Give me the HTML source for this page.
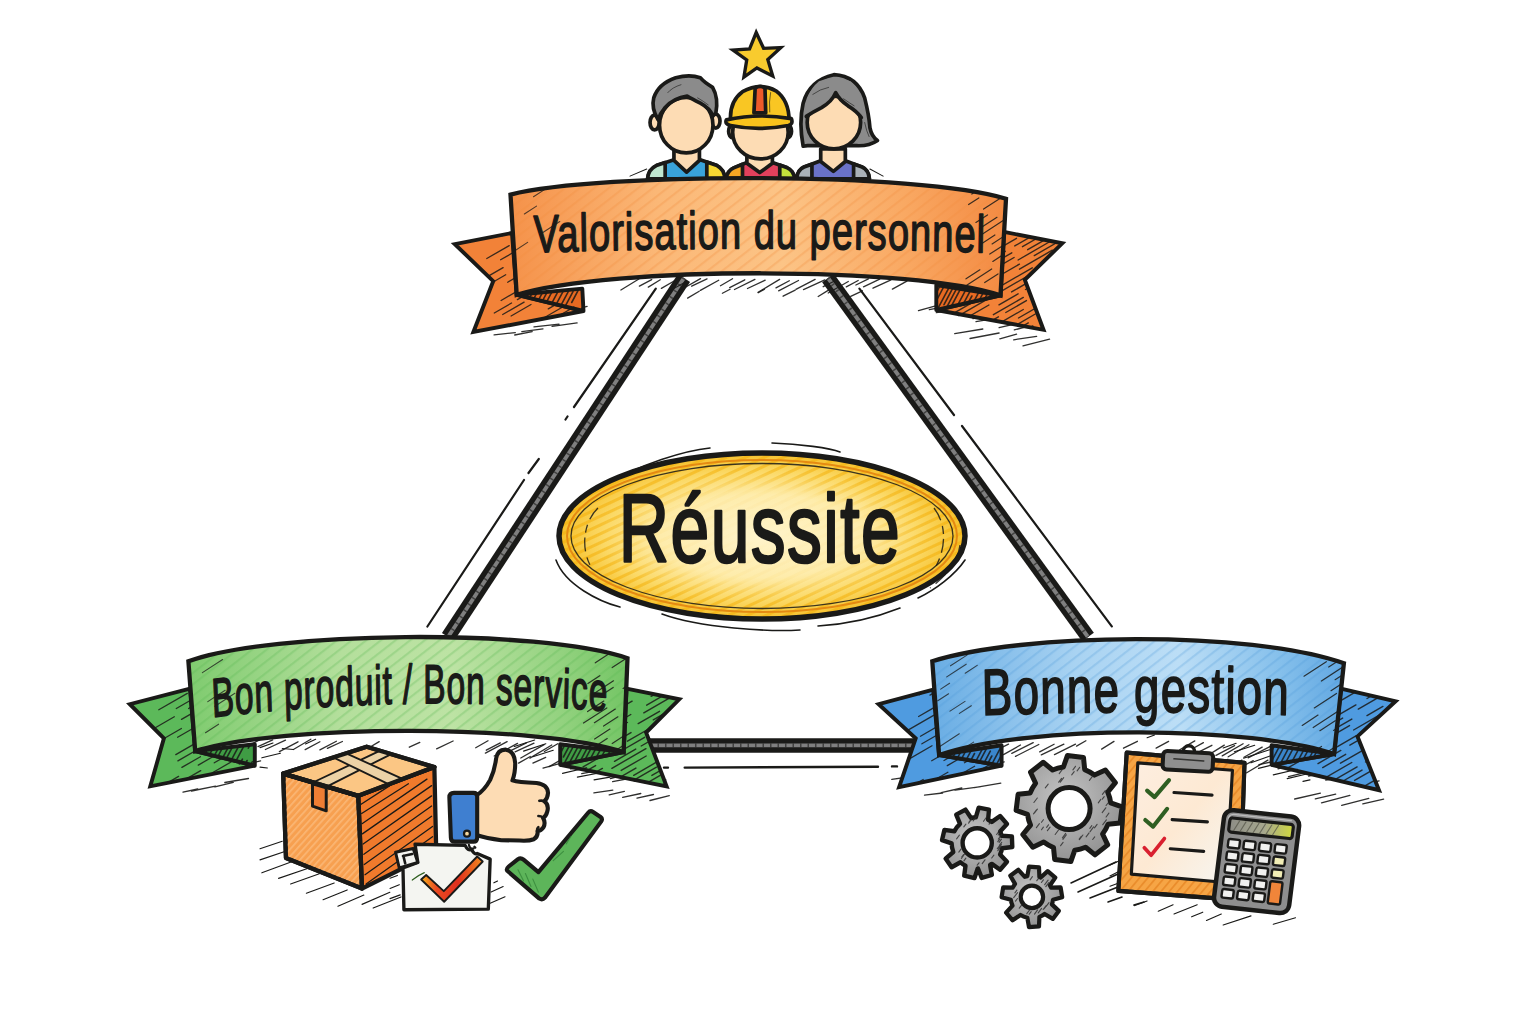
<!DOCTYPE html>
<html><head><meta charset="utf-8"><title>Triangle de la réussite</title>
<style>html,body{margin:0;padding:0;background:#fff;}body{width:1536px;height:1024px;overflow:hidden;font-family:"Liberation Sans",sans-serif;}svg{display:block}</style>
</head><body>
<svg width="1536" height="1024" viewBox="0 0 1536 1024">

<defs>
<linearGradient id="gOr" x1="0" x2="1" y1="0" y2="0">
 <stop offset="0" stop-color="#f5924a"/><stop offset="0.3" stop-color="#fbb877"/><stop offset="0.55" stop-color="#fcc486"/><stop offset="0.8" stop-color="#f9a862"/><stop offset="1" stop-color="#f38a42"/>
</linearGradient>
<linearGradient id="gGr" x1="0" x2="1" y1="0" y2="0">
 <stop offset="0" stop-color="#7fcb6f"/><stop offset="0.35" stop-color="#b4df9c"/><stop offset="0.6" stop-color="#bde3a4"/><stop offset="0.85" stop-color="#93d27f"/><stop offset="1" stop-color="#74c565"/>
</linearGradient>
<linearGradient id="gBl" x1="0" x2="1" y1="0" y2="0">
 <stop offset="0" stop-color="#69ade4"/><stop offset="0.35" stop-color="#a9d3f2"/><stop offset="0.6" stop-color="#bcdef6"/><stop offset="0.85" stop-color="#84bfeb"/><stop offset="1" stop-color="#62a8e2"/>
</linearGradient>
<radialGradient id="gYe" cx="0.5" cy="0.5" r="0.5">
 <stop offset="0" stop-color="#fff4cc"/><stop offset="0.5" stop-color="#feecab"/><stop offset="0.78" stop-color="#fbd966"/><stop offset="1" stop-color="#f6c02a"/>
</radialGradient>
<pattern id="hOr" width="9" height="9" patternUnits="userSpaceOnUse" patternTransform="rotate(-38)"><rect width="9" height="2.2" fill="#f08a3c" opacity="0.28"/></pattern>
<pattern id="hGr" width="9" height="9" patternUnits="userSpaceOnUse" patternTransform="rotate(-38)"><rect width="9" height="2.2" fill="#5bb552" opacity="0.28"/></pattern>
<pattern id="hBl" width="9" height="9" patternUnits="userSpaceOnUse" patternTransform="rotate(-38)"><rect width="9" height="2.2" fill="#4d98d8" opacity="0.25"/></pattern>
<pattern id="hYe" width="8" height="8" patternUnits="userSpaceOnUse" patternTransform="rotate(-25)"><rect width="8" height="3" fill="#f4b414" opacity="0.75"/></pattern>
<radialGradient id="gMask" cx="0.5" cy="0.5" r="0.5"><stop offset="0" stop-color="#000"/><stop offset="0.55" stop-color="#151515"/><stop offset="0.8" stop-color="#ccc"/><stop offset="1" stop-color="#fff"/></radialGradient>
<mask id="mYe"><ellipse cx="762" cy="536" rx="203" ry="83" fill="url(#gMask)"/></mask>
</defs>

<line x1="684" y1="278" x2="448" y2="637" stroke="#1a1a18" stroke-width="14.5"/>
<line x1="684" y1="278" x2="448" y2="637" stroke="#7f7f7f" stroke-width="3.9"/>
<line x1="684" y1="278" x2="448" y2="637" stroke="#1a1a18" stroke-width="3.9" stroke-dasharray="1.5 6" opacity="0.6"/>
<line x1="828" y1="278" x2="1088" y2="637" stroke="#1a1a18" stroke-width="14.5"/>
<line x1="828" y1="278" x2="1088" y2="637" stroke="#7f7f7f" stroke-width="3.9"/>
<line x1="828" y1="278" x2="1088" y2="637" stroke="#1a1a18" stroke-width="3.9" stroke-dasharray="1.5 6" opacity="0.6"/>
<line x1="650" y1="745.4" x2="914" y2="745.4" stroke="#1a1a18" stroke-width="14.5"/>
<line x1="650" y1="745.4" x2="914" y2="745.4" stroke="#7f7f7f" stroke-width="3.9"/>
<line x1="650" y1="745.4" x2="914" y2="745.4" stroke="#1a1a18" stroke-width="3.9" stroke-dasharray="1.5 6" opacity="0.6"/>
<path d="M655.8,288.6L574,407 M567.5,416.5L565.5,419.5 M538.8,459L528.5,473 M524,480L427.4,626.5" stroke="#1a1a18" stroke-width="2.2" fill="none" stroke-linecap="round"/>
<path d="M859.4,288.6L954,415 M962,426L1111.8,626.4" stroke="#1a1a18" stroke-width="2.2" fill="none" stroke-linecap="round"/>
<path d="M684.7,767.6L878,766.8 M664,767.6l4,0 M892,766.4l5,0" stroke="#1a1a18" stroke-width="2.4" fill="none" stroke-linecap="round"/>
<g transform="translate(630,10) scale(0.17578)" stroke="#1a1a18" stroke-width="21" stroke-linejoin="round" stroke-linecap="round">
<!-- sketch lines beside -->
<path d="M0,945 L95,905 M1365,905 L1440,945" stroke-width="6" fill="none"/>
<!-- LEFT MAN body -->
<path d="M100,960 Q105,905 150,885 L255,850 L395,850 L495,885 Q535,905 540,960 Z" fill="#39a3da"/>
<path d="M100,960 Q105,905 150,885 L200,868 L200,960 Z" fill="#bfe6cf"/>
<path d="M437,865 L495,885 Q535,905 540,960 L437,960 Z" fill="#f6d832"/>
<path d="M250,790 L250,855 L322,922 L395,855 L395,790 Z" fill="#fddcb4"/>
<!-- ears -->
<ellipse cx="140" cy="640" rx="26" ry="42" fill="#fddcb4"/>
<ellipse cx="488" cy="632" rx="24" ry="40" fill="#fddcb4"/>
<!-- face -->
<ellipse cx="320" cy="655" rx="152" ry="158" fill="#fddcb4"/>
<!-- hair -->
<path d="M160,625 Q120,560 135,500 Q160,420 260,385 Q340,365 400,385 Q420,410 470,440 Q505,500 488,590 L470,600 Q455,560 400,530 Q350,505 325,490 Q250,500 200,555 Q170,590 160,625 Z" fill="#8b8b8b"/>
<path d="M385,500 Q420,520 445,540 M215,470 Q240,440 290,425" stroke-width="5" fill="none" opacity="0.7"/>

<!-- WORKER body -->
<path d="M548,960 Q552,915 590,898 L665,868 L810,868 L895,898 Q932,915 936,960 Z" fill="#e2405c"/>
<path d="M548,960 Q552,915 590,898 L640,878 L640,960 Z" fill="#f6a623"/>
<path d="M852,882 L895,898 Q932,915 936,960 L852,960 Z" fill="#c3e23c"/>
<path d="M665,830 L665,872 L738,925 L810,872 L810,830 Z" fill="#fddcb4"/>
<ellipse cx="585" cy="690" rx="24" ry="38" fill="#fddcb4"/>
<ellipse cx="895" cy="690" rx="24" ry="38" fill="#fddcb4"/>
<ellipse cx="742" cy="695" rx="158" ry="152" fill="#fddcb4"/>
<!-- helmet -->
<path d="M572,630 Q565,520 640,465 Q740,410 830,460 Q905,515 905,630 Z" fill="#f9c623"/>
<path d="M705,585 L712,445 Q740,425 768,445 L772,585 Z" fill="#ef5a2a"/>
<path d="M548,625 Q730,585 918,618 Q930,650 900,657 Q730,690 572,657 Q538,650 548,625 Z" fill="#f8c21c"/>
<path d="M800,470 Q790,520 795,580" stroke-width="6" fill="none" opacity="0.6"/>

<!-- WOMAN -->
<path d="M985,775 Q960,640 985,530 Q1020,400 1160,368 Q1290,375 1335,500 Q1360,600 1365,670 Q1375,720 1408,742 Q1360,775 1290,772 L1010,772 Z" fill="#8b8b8b"/>
<path d="M948,960 Q952,910 990,893 L1085,858 L1225,858 L1320,893 Q1358,910 1362,960 Z" fill="#6a72c8"/>
<path d="M948,960 Q952,910 990,893 L1035,877 L1035,960 Z" fill="#aab2b8"/>
<path d="M1272,876 L1320,893 Q1358,910 1362,960 L1272,960 Z" fill="#aab2b8"/>
<path d="M1085,790 L1085,862 L1157,918 L1225,862 L1225,790 Z" fill="#fddcb4"/>
<ellipse cx="1160" cy="640" rx="152" ry="150" fill="#fddcb4"/>
<path d="M1003,605 Q985,480 1075,405 Q1160,365 1255,405 Q1340,480 1316,612 Q1290,575 1240,545 Q1190,510 1170,470 Q1150,520 1090,555 Q1040,580 1003,605 Z" fill="#8b8b8b" stroke="none"/>
<path d="M1316,612 Q1290,575 1240,545 Q1190,510 1170,470 Q1150,520 1090,555 Q1040,580 1003,605" fill="none"/>
<path d="M1040,480 Q1080,450 1130,440 M1215,505 Q1250,530 1275,545 M1335,640 Q1345,690 1360,720" stroke-width="5" fill="none" opacity="0.7"/>

<!-- STAR -->
<path d="M718,128 L760,218 L858,214 L784,282 L812,376 L722,330 L648,382 L664,284 L586,228 L680,222 Z" fill="#f8cb2e" stroke-width="19" stroke-linejoin="miter"/>
</g>

<path d="M638.9,279.0l-18.0,11.0 M651.7,279.6l-12.3,6.5 M660.3,279.8l-12.0,7.3 M674.1,281.0l-12.7,7.4 M686.9,281.3l-17.7,9.7 M700.5,278.6l-20.5,11.7 M707.0,278.9l-15.3,7.3 M718.7,280.2l-18.3,10.2 M732.5,278.7l-12.0,7.0 M744.8,279.8l-15.1,7.8 M754.9,279.4l-20.4,10.1 M765.2,280.2l-17.7,8.3 M779.6,279.4l-21.5,12.9 M789.3,280.8l-13.3,7.1 M798.5,280.5l-19.9,10.3 M815.1,279.4l-19.2,9.9 M824.8,279.9l-21.3,9.7 M835.7,280.5l-12.5,6.2 M848.3,281.5l-20.1,11.5 M858.2,280.5l-11.9,6.4 M868.4,278.9l-12.5,6.1 M879.7,279.2l-16.2,7.6 M891.0,279.8l-18.0,8.4 M906.9,281.1l-14.5,8.0" stroke="#1a1a18" stroke-width="1.3" fill="none" stroke-linecap="round" opacity="0.9"/>
<path d="M699.2,291.2l-11.6,6.9 M730.1,289.2l-7.7,4.1 M764.5,289.3l-6.3,3.5 M795.2,290.2l-12.1,6.0 M828.1,290.4l-9.9,6.1 M862.4,290.8l-11.7,5.6" stroke="#1a1a18" stroke-width="1.3" fill="none" stroke-linecap="round" opacity="0.9"/>
<path d="M504.4,319.7l-16.8,3.2 M513.0,316.8l-18.0,4.7 M525.3,314.9l-15.1,4.0 M534.5,314.0l-15.8,2.5 M548.2,311.4l-18.7,4.4 M557.3,309.5l-27.5,3.9 M568.5,308.7l-16.2,4.4 M578.4,306.2l-26.6,7.0 M587.1,306.4l-22.4,5.9" stroke="#1a1a18" stroke-width="1.3" fill="none" stroke-linecap="round" opacity="0.9"/>
<path d="M515.3,332.6l-21.2,2.3 M532.2,331.6l-17.5,3.4 M543.0,328.8l-21.2,2.9 M559.0,324.2l-25.0,2.7 M577.1,322.9l-25.0,3.5" stroke="#1a1a18" stroke-width="1.3" fill="none" stroke-linecap="round" opacity="0.9"/>
<path d="M938.4,305.1l-19.9,5.6 M948.3,306.2l-19.0,3.5 M965.0,308.6l-28.7,4.1 M976.1,310.3l-18.2,4.6 M982.6,311.7l-24.2,3.8 M997.6,314.4l-24.6,4.2 M1004.2,316.8l-28.2,4.8 M1019.3,318.2l-17.9,3.1 M1027.9,321.0l-28.8,6.6 M1039.4,323.3l-25.1,6.6" stroke="#1a1a18" stroke-width="1.3" fill="none" stroke-linecap="round" opacity="0.9"/>
<path d="M982.8,329.0l-28.1,4.7 M999.1,333.0l-29.1,5.5 M1016.6,334.1l-16.8,4.8 M1036.6,336.4l-22.9,3.4 M1049.6,339.1l-26.6,6.8" stroke="#1a1a18" stroke-width="1.3" fill="none" stroke-linecap="round" opacity="0.9"/>
<path d="M260.5,739.4l-15.6,8.1 M272.7,739.9l-14.7,6.7 M285.5,740.2l-20.1,9.3 M298.0,741.8l-18.6,9.8 M310.8,739.2l-17.4,10.3 M319.9,741.7l-14.7,7.9 M336.4,741.2l-16.5,8.7" stroke="#1a1a18" stroke-width="1.3" fill="none" stroke-linecap="round" opacity="0.9"/>
<path d="M500.3,742.9l-14.0,7.3 M507.1,741.6l-21.7,11.5 M517.5,743.4l-23.3,12.6 M526.4,742.9l-18.9,9.4 M534.0,743.2l-18.9,8.6 M544.1,744.6l-23.3,13.4 M551.8,745.0l-21.9,13.1 M557.7,743.8l-13.3,7.7" stroke="#1a1a18" stroke-width="1.3" fill="none" stroke-linecap="round" opacity="0.9"/>
<path d="M342.4,741.5l-15.0,6.9 M379.2,741.6l-13.2,7.9 M419.8,742.4l-10.5,4.8 M453.1,741.0l-16.5,7.8 M488.0,740.8l-12.3,6.9" stroke="#1a1a18" stroke-width="1.3" fill="none" stroke-linecap="round" opacity="0.9"/>
<path d="M513.2,755.5l-18.6,11.6 M530.3,756.5l-11.7,6.6 M545.7,757.4l-12.8,5.7 M561.7,759.4l-12.5,7.2" stroke="#1a1a18" stroke-width="1.3" fill="none" stroke-linecap="round" opacity="0.9"/>
<path d="M172.2,775.8l-20.4,4.7 M187.0,774.4l-28.8,6.1 M197.8,772.5l-25.3,3.7 M209.8,768.1l-26.9,5.0 M222.1,768.9l-26.3,3.5 M234.6,766.8l-17.7,2.2 M249.3,763.4l-25.2,2.9 M260.6,760.9l-24.4,5.2" stroke="#1a1a18" stroke-width="1.3" fill="none" stroke-linecap="round" opacity="0.9"/>
<path d="M197.7,789.0l-14.7,3.2 M215.5,786.1l-23.9,4.9 M233.3,782.4l-18.4,4.5 M248.5,778.5l-23.7,4.0" stroke="#1a1a18" stroke-width="1.3" fill="none" stroke-linecap="round" opacity="0.9"/>
<path d="M573.1,759.9l-30.1,8.2 M588.5,762.3l-24.1,4.0 M597.6,765.0l-27.1,3.9 M608.9,768.5l-27.2,5.2 M620.9,769.5l-17.0,4.6 M630.5,773.2l-20.1,5.3 M642.3,776.0l-29.7,5.6 M655.1,776.7l-20.8,4.5 M665.9,779.8l-20.6,3.0" stroke="#1a1a18" stroke-width="1.3" fill="none" stroke-linecap="round" opacity="0.9"/>
<path d="M612.8,790.1l-18.9,2.7 M624.4,791.3l-15.2,3.5 M640.8,793.5l-18.1,3.8 M653.5,794.5l-16.5,3.7 M669.3,795.6l-19.3,4.9" stroke="#1a1a18" stroke-width="1.3" fill="none" stroke-linecap="round" opacity="0.9"/>
<path d="M1008.5,744.1l-21.7,10.9 M1020.5,745.0l-17.0,9.6 M1033.2,742.6l-21.4,10.8 M1038.8,744.5l-23.3,11.9 M1054.1,744.3l-14.4,7.6 M1063.9,744.2l-22.6,10.7 M1075.5,744.2l-21.0,10.4" stroke="#1a1a18" stroke-width="1.3" fill="none" stroke-linecap="round" opacity="0.9"/>
<path d="M1203.4,742.6l-14.1,7.9 M1211.9,745.3l-19.4,9.9 M1224.3,745.1l-17.7,11.0 M1234.6,745.6l-18.6,9.8 M1243.1,743.8l-20.9,12.1 M1248.9,744.7l-20.7,12.1 M1262.2,747.1l-18.3,10.1 M1269.9,746.6l-21.8,11.2" stroke="#1a1a18" stroke-width="1.3" fill="none" stroke-linecap="round" opacity="0.9"/>
<path d="M1085.9,740.7l-9.4,5.4 M1114.0,741.4l-12.4,7.7 M1137.4,741.3l-13.9,6.9 M1168.6,741.4l-12.5,6.7 M1194.8,740.9l-15.1,8.8" stroke="#1a1a18" stroke-width="1.3" fill="none" stroke-linecap="round" opacity="0.9"/>
<path d="M1227.9,759.3l-11.8,6.4 M1241.9,760.1l-16.2,9.3 M1253.3,760.7l-14.0,7.2 M1267.9,760.1l-21.2,12.7" stroke="#1a1a18" stroke-width="1.3" fill="none" stroke-linecap="round" opacity="0.9"/>
<path d="M921.9,775.0l-30.1,4.4 M930.5,774.3l-23.6,5.8 M941.3,771.3l-23.3,4.8 M954.3,769.0l-21.5,2.7 M965.6,768.3l-29.0,6.7 M983.3,766.4l-30.0,6.2 M992.1,763.5l-31.8,5.2 M1004.2,761.8l-20.4,5.0" stroke="#1a1a18" stroke-width="1.3" fill="none" stroke-linecap="round" opacity="0.9"/>
<path d="M942.6,793.0l-18.1,2.1 M961.8,788.0l-20.6,4.6 M980.9,786.7l-25.8,3.4 M1000.8,783.2l-26.4,4.5" stroke="#1a1a18" stroke-width="1.3" fill="none" stroke-linecap="round" opacity="0.9"/>
<path d="M1286.3,758.6l-27.4,6.0 M1298.4,763.2l-20.4,5.7 M1311.3,764.4l-23.4,5.5 M1319.4,769.0l-30.9,7.7 M1333.4,770.4l-24.7,5.6 M1342.4,772.7l-19.8,3.0 M1356.2,775.7l-30.5,4.3 M1367.8,778.2l-19.1,5.2 M1379.1,780.8l-19.9,4.9" stroke="#1a1a18" stroke-width="1.3" fill="none" stroke-linecap="round" opacity="0.9"/>
<path d="M1320.4,793.2l-25.7,5.8 M1335.7,794.1l-20.4,4.8 M1349.9,795.3l-28.4,7.6 M1368.8,798.4l-27.1,6.9 M1383.6,799.2l-20.8,4.6" stroke="#1a1a18" stroke-width="1.3" fill="none" stroke-linecap="round" opacity="0.9"/>
<path d="M512,233 L454.8,244.1 L493.2,281.2 L473.4,332 L583.5,311 L516.7,294.8 Z" fill="#f28238"/>
<path d="M1004,231.9 L1062.3,243.3 L1024.8,279.8 L1043.5,329.8 L936.3,310 L1000.5,295.4 Z" fill="#f28238"/>
<clipPath id="cp1"><path d="M512,233 L454.8,244.1 L493.2,281.2 L473.4,332 L583.5,311 L516.7,294.8 Z"/></clipPath>
<path clip-path="url(#cp1)" d="M477.9,212.6l12.6,-7.3 M510.4,193.8l30.7,-17.7 M526.7,190.4l17.3,-10.0 M477.9,226.3l25.6,-14.8 M518.2,203.1l23.6,-13.6 M495.4,223.1l25.3,-14.6 M528.2,204.1l13.6,-7.8 M487.4,235.0l32.1,-18.5 M543.0,202.9l22.0,-12.7 M502.4,235.6l20.9,-12.0 M542.3,212.5l31.4,-18.1 M519.6,232.8l22.6,-13.1 M567.5,205.1l18.6,-10.7 M486.8,258.5l22.4,-12.9 M519.0,239.9l20.8,-12.0 M564.7,213.5l15.2,-8.8 M500.6,259.8l30.5,-17.6 M557.1,227.2l31.5,-18.2 M483.1,279.1l20.0,-11.5 M515.1,260.6l15.6,-9.0 M569.0,229.5l32.2,-18.6 M483.7,287.5l22.0,-12.7 M530.0,260.8l16.1,-9.3 M570.0,237.7l12.8,-7.4 M507.7,282.2l27.7,-16.0 M583.4,238.5l17.6,-10.1 M532.0,275.1l17.0,-9.8 M574.1,250.8l32.0,-18.4 M501.1,300.5l28.8,-16.6 M552.2,271.0l28.2,-16.3 M494.3,313.0l17.3,-10.0 M517.4,299.6l23.6,-13.6 M502.7,314.5l21.4,-12.4 M537.9,294.1l25.0,-14.4 M511.1,316.0l19.9,-11.5 M540.3,299.1l17.3,-10.0 M566.0,284.3l30.5,-17.6 M481.7,340.3l22.7,-13.1 M559.4,295.5l22.0,-12.7 M548.3,308.9l30.1,-17.4 M480.6,354.3l25.0,-14.4 M518.5,332.4l15.1,-8.7 M544.1,317.7l24.6,-14.2 M578.1,298.0l12.4,-7.1 M487.0,357.3l23.5,-13.6 M517.8,339.5l20.3,-11.7 M556.6,317.1l14.0,-8.1 M492.8,361.0l18.6,-10.7 M524.0,343.0l20.8,-12.0 M570.7,316.0l19.7,-11.4 M487.5,373.1l29.2,-16.8 M540.2,342.7l21.7,-12.5 M567.4,327.0l23.6,-13.6 M548.7,345.0l22.3,-12.9 M532.2,362.2l30.9,-17.9" stroke="#1a1a18" stroke-width="1.3" fill="none" stroke-linecap="round" opacity="0.85"/>
<clipPath id="cp2"><path d="M1004,231.9 L1062.3,243.3 L1024.8,279.8 L1043.5,329.8 L936.3,310 L1000.5,295.4 Z"/></clipPath>
<path clip-path="url(#cp2)" d="M975.7,202.4l24.9,-14.4 M942.1,226.6l35.9,-20.7 M995.7,195.7l28.9,-16.7 M949.9,228.1l26.4,-15.3 M982.0,209.6l30.6,-17.7 M968.1,223.6l17.8,-10.3 M1001.7,204.2l16.6,-9.6 M1025.2,190.7l33.4,-19.3 M958.2,234.3l18.9,-10.9 M1003.0,208.4l33.3,-19.2 M974.5,232.3l19.6,-11.3 M1018.7,206.8l17.2,-9.9 M965.2,242.9l19.1,-11.0 M1008.6,217.9l20.6,-11.9 M936.9,264.9l38.3,-22.1 M999.0,229.1l19.7,-11.4 M1026.3,213.3l28.5,-16.4 M1010.0,229.9l25.1,-14.5 M961.8,263.5l33.6,-19.4 M1017.6,231.3l21.7,-12.6 M956.0,273.3l16.4,-9.5 M990.4,253.4l26.1,-15.1 M947.5,284.7l18.2,-10.5 M975.6,268.5l29.7,-17.2 M1014.8,245.9l30.7,-17.7 M977.2,272.8l34.6,-20.0 M1022.5,246.7l15.9,-9.2 M940.0,300.3l33.4,-19.3 M997.4,267.1l16.7,-9.6 M1027.7,249.7l21.4,-12.3 M982.0,280.9l20.4,-11.8 M1018.1,260.0l31.1,-18.0 M943.4,308.1l34.6,-20.0 M983.3,285.0l36.1,-20.8 M1034.3,255.6l33.6,-19.4 M962.9,301.9l33.8,-19.5 M1019.5,269.2l32.8,-19.0 M946.5,317.4l28.3,-16.3 M993.3,290.3l39.0,-22.5 M948.1,321.9l38.5,-22.2 M998.5,292.8l36.9,-21.3 M949.6,327.7l39.3,-22.7 M1011.6,291.9l32.5,-18.8 M944.2,336.5l30.7,-17.7 M999.0,304.8l19.1,-11.0 M1025.5,289.5l38.1,-22.0 M954.4,337.2l32.5,-18.8 M993.4,314.7l29.9,-17.3 M960.6,338.6l37.8,-21.8 M1005.8,312.5l20.6,-11.9 M1032.3,297.3l36.1,-20.9 M959.5,346.3l22.6,-13.0 M989.3,329.1l34.0,-19.6 M1035.1,302.6l25.9,-14.9 M956.7,353.7l39.0,-22.5 M1018.5,318.0l30.6,-17.7 M965.8,354.2l28.6,-16.5 M1017.5,324.3l17.8,-10.3 M964.2,359.9l27.5,-15.9 M1000.7,338.8l27.6,-15.9 M961.8,366.9l32.5,-18.8 M1001.8,343.8l31.0,-17.9 M967.1,370.3l25.3,-14.6 M1016.1,342.0l17.7,-10.2 M978.7,369.4l21.3,-12.3 M1016.2,347.8l33.9,-19.6 M980.3,373.8l31.6,-18.3 M1020.7,350.5l26.2,-15.1 M1028.6,351.2l19.3,-11.2" stroke="#1a1a18" stroke-width="1.4" fill="none" stroke-linecap="round" opacity="0.85"/>
<path d="M512,233 L454.8,244.1 L493.2,281.2 L473.4,332 L583.5,311 L516.7,294.8 Z" fill="none" stroke="#1a1a18" stroke-width="3.9" stroke-linejoin="miter"/>
<path d="M1004,231.9 L1062.3,243.3 L1024.8,279.8 L1043.5,329.8 L936.3,310 L1000.5,295.4 Z" fill="none" stroke="#1a1a18" stroke-width="3.9" stroke-linejoin="miter"/>
<path d="M516.7,294.8 L582.3,288.6 L583.5,311 Z" fill="#e86a22"/>
<path d="M1000.5,295.4 L936.3,285 L936.3,310 Z" fill="#e86a22"/>
<clipPath id="cp3"><path d="M516.7,294.8 L582.3,288.6 L583.5,311 Z"/></clipPath>
<path clip-path="url(#cp3)" d="M511.6,297.1l20.9,-39.4 M509.2,309.2l23.3,-43.9 M511.1,314.5l20.1,-37.8 M536.3,267.1l17.7,-33.3 M520.1,308.0l18.8,-35.3 M522.4,311.3l17.9,-33.6 M525.8,313.8l21.1,-39.7 M552.4,263.9l20.9,-39.2 M532.6,311.1l20.5,-38.5 M534.0,316.9l15.0,-28.2 M560.6,266.8l20.8,-39.1 M536.0,321.9l19.9,-37.5 M538.0,329.1l20.2,-38.0 M565.4,277.5l18.7,-35.1 M541.7,331.6l21.4,-40.3 M571.8,275.0l15.0,-28.3 M549.1,327.6l20.1,-37.8 M556.9,321.8l16.1,-30.2 M580.2,278.0l21.2,-40.0 M552.1,339.5l16.7,-31.3 M571.7,302.5l18.0,-33.9 M557.6,337.7l16.2,-30.5 M587.2,282.0l19.0,-35.8 M560.7,340.5l15.3,-28.8 M587.9,289.3l20.0,-37.7 M571.1,329.0l17.4,-32.7" stroke="#1a1a18" stroke-width="1.6" fill="none" stroke-linecap="round" opacity="0.85"/>
<clipPath id="cp4"><path d="M1000.5,295.4 L936.3,285 L936.3,310 Z"/></clipPath>
<path clip-path="url(#cp4)" d="M926.2,303.5l16.8,-31.7 M947.3,263.8l21.9,-41.2 M928.8,306.9l16.5,-31.0 M950.1,266.7l14.1,-26.5 M931.4,310.0l18.6,-35.0 M960.0,256.3l20.3,-38.1 M933.5,316.7l21.9,-41.1 M944.0,304.7l20.0,-37.7 M967.0,261.5l23.0,-43.3 M940.7,318.5l16.3,-30.6 M963.7,275.3l15.5,-29.2 M950.9,307.0l19.8,-37.2 M954.4,311.2l22.0,-41.3 M957.9,314.1l18.2,-34.2 M956.5,324.9l15.4,-28.9 M975.4,289.4l18.5,-34.7 M963.2,321.5l22.2,-41.7 M967.1,323.1l20.3,-38.2 M974.5,318.0l14.8,-27.8 M974.2,325.8l20.5,-38.5 M977.9,330.0l18.6,-35.0 M999.8,288.9l20.8,-39.2 M981.0,334.9l18.5,-34.9 M984.9,335.4l18.1,-33.9" stroke="#1a1a18" stroke-width="1.6" fill="none" stroke-linecap="round" opacity="0.85"/>
<path d="M516.7,294.8 L582.3,288.6 L583.5,311 Z" fill="none" stroke="#1a1a18" stroke-width="3.9" stroke-linejoin="round"/>
<path d="M1000.5,295.4 L936.3,285 L936.3,310 Z" fill="none" stroke="#1a1a18" stroke-width="3.9" stroke-linejoin="round"/>
<path d="M510.5,194.6 C600,172 920,172 1006,198.8 L1000.5,295.4 C915,266 610,266 516.7,294.8 Z" fill="url(#gOr)"/>
<path d="M510.5,194.6 C600,172 920,172 1006,198.8 L1000.5,295.4 C915,266 610,266 516.7,294.8 Z" fill="url(#hOr)"/>
<clipPath id="cp5"><path d="M510.5,194.6 C600,172 920,172 1006,198.8 L1000.5,295.4 C915,266 610,266 516.7,294.8 Z"/></clipPath>
<path clip-path="url(#cp5)" d="M515.7,147.4l16.0,-10.4 M547.1,127.1l10.4,-6.7 M524.2,164.9l9.1,-5.9 M531.5,188.2l11.1,-7.2 M533.5,196.7l17.9,-11.6 M524.4,214.0l12.1,-7.9 M511.4,253.0l16.2,-10.6 M539.8,234.5l20.0,-13.0 M515.4,306.4l21.3,-13.8 M520.9,311.1l9.6,-6.3 M518.2,322.9l18.7,-12.2" stroke="#1a1a18" stroke-width="1.1" fill="none" stroke-linecap="round" opacity="0.75"/>
<clipPath id="cp6"><path d="M510.5,194.6 C600,172 920,172 1006,198.8 L1000.5,295.4 C915,266 610,266 516.7,294.8 Z"/></clipPath>
<path clip-path="url(#cp6)" d="M969.8,134.8l10.4,-6.7 M973.2,139.5l19.6,-12.7 M974.8,145.3l23.4,-15.2 M974.1,153.4l14.8,-9.6 M999.3,137.0l23.7,-15.4 M974.8,161.9l11.6,-7.5 M993.8,149.6l23.2,-15.1 M982.8,163.8l12.3,-8.0 M1001.2,151.9l25.0,-16.2 M963.8,182.8l17.2,-11.2 M991.1,165.1l23.8,-15.5 M985.9,176.9l17.5,-11.4 M971.9,194.1l19.6,-12.8 M968.6,204.5l10.2,-6.6 M1002.0,182.8l19.0,-12.3 M992.9,195.7l19.5,-12.6 M983.6,209.1l20.2,-13.1 M975.9,222.4l11.6,-7.5 M979.6,228.6l17.4,-11.3 M979.5,235.9l24.8,-16.1 M981.9,243.5l13.0,-8.5 M992.1,243.9l16.9,-11.0 M989.8,254.1l14.1,-9.2 M966.0,278.8l13.9,-9.0 M992.8,261.4l15.8,-10.3 M966.7,285.2l25.0,-16.2 M984.7,282.5l13.3,-8.6 M1004.9,269.4l11.4,-7.4 M965.4,304.7l15.2,-9.9 M1004.8,279.1l15.5,-10.1 M970.9,308.8l19.3,-12.5 M1005.5,286.3l14.8,-9.6 M977.0,313.5l21.1,-13.7 M986.9,316.3l16.7,-10.9 M966.8,335.9l24.5,-15.9 M984.7,331.2l16.7,-10.8 M988.7,337.0l12.9,-8.4 M1005.2,332.6l10.8,-7.0" stroke="#1a1a18" stroke-width="1.2" fill="none" stroke-linecap="round" opacity="0.85"/>
<path d="M510.5,194.6 C600,172 920,172 1006,198.8 L1000.5,295.4 C915,266 610,266 516.7,294.8 Z" fill="none" stroke="#1a1a18" stroke-width="4.3" stroke-linejoin="miter"/>
<path d="M190,688.6 L129.8,704.2 L163.9,738.4 L150.3,786.3 L254.8,765.7 L195.2,751.1 Z" fill="#5cb95a"/>
<path d="M626.6,688.6 L679.3,699.3 L646.1,732.5 L666.6,786.3 L560.2,764.8 L623.6,752.1 Z" fill="#5cb95a"/>
<clipPath id="cp7"><path d="M190,688.6 L129.8,704.2 L163.9,738.4 L150.3,786.3 L254.8,765.7 L195.2,751.1 Z"/></clipPath>
<path clip-path="url(#cp7)" d="M161.3,663.8l22.4,-12.9 M191.3,646.4l22.7,-13.1 M191.4,662.4l23.7,-13.7 M174.1,679.0l14.1,-8.2 M195.6,666.5l22.0,-12.7 M179.0,682.3l26.6,-15.4 M224.4,656.1l20.5,-11.8 M169.2,694.6l32.8,-18.9 M224.6,662.6l17.1,-9.9 M158.8,709.8l28.5,-16.4 M199.0,686.6l19.8,-11.4 M176.3,708.5l19.1,-11.0 M203.8,692.6l27.0,-15.6 M154.0,728.5l20.3,-11.7 M188.6,708.5l20.0,-11.6 M231.7,683.6l19.9,-11.5 M181.5,719.4l22.6,-13.0 M215.3,699.9l32.3,-18.6 M154.5,744.0l26.9,-15.5 M201.1,717.1l23.6,-13.6 M233.0,698.7l23.3,-13.5 M177.6,737.3l25.2,-14.5 M227.1,708.7l29.0,-16.7 M249.3,705.1l21.4,-12.3 M175.8,754.6l17.3,-10.0 M216.8,730.9l14.8,-8.5 M177.9,760.9l32.3,-18.7 M217.0,738.3l21.5,-12.4 M181.9,767.4l18.5,-10.7 M213.8,749.0l25.5,-14.7 M157.7,788.5l20.9,-12.1 M198.3,765.1l32.2,-18.6 M247.9,736.5l24.2,-14.0 M180.8,782.1l19.9,-11.5 M214.3,762.8l14.2,-8.2 M250.4,741.9l24.6,-14.2 M161.0,802.5l27.9,-16.1 M212.4,772.8l25.9,-15.0 M156.9,811.7l20.0,-11.5 M197.9,788.0l24.9,-14.4 M239.3,764.1l31.4,-18.1 M167.5,813.5l12.7,-7.3 M242.3,770.3l22.1,-12.7 M158.5,824.7l30.3,-17.5 M210.5,794.7l12.8,-7.4 M245.1,774.8l17.1,-9.9 M207.8,804.3l31.9,-18.4 M210.4,810.7l17.8,-10.2 M252.8,786.2l15.5,-9.0 M191.6,827.8l18.4,-10.6 M227.3,807.2l14.7,-8.5" stroke="#1a1a18" stroke-width="1.3" fill="none" stroke-linecap="round" opacity="0.85"/>
<clipPath id="cp8"><path d="M626.6,688.6 L679.3,699.3 L646.1,732.5 L666.6,786.3 L560.2,764.8 L623.6,752.1 Z"/></clipPath>
<path clip-path="url(#cp8)" d="M613.9,651.9l18.0,-10.4 M583.3,676.1l35.8,-20.7 M630.8,648.7l32.2,-18.6 M563.0,694.1l18.9,-10.9 M605.6,669.5l21.5,-12.4 M646.2,646.1l18.5,-10.7 M567.9,696.9l26.9,-15.5 M603.3,676.5l18.2,-10.5 M645.0,652.4l19.5,-11.3 M564.2,704.1l31.7,-18.3 M609.6,677.9l26.5,-15.3 M648.4,655.5l21.5,-12.4 M577.3,703.5l24.9,-14.4 M613.3,682.7l33.5,-19.3 M588.0,703.8l38.4,-22.2 M643.4,671.9l36.5,-21.1 M625.4,687.3l24.9,-14.4 M589.0,714.1l38.0,-21.9 M638.6,685.5l28.1,-16.2 M651.0,684.4l37.9,-21.9 M596.6,721.7l35.5,-20.5 M592.4,730.3l33.3,-19.2 M651.2,696.3l21.0,-12.1 M561.3,754.6l38.5,-22.2 M612.6,725.0l18.2,-10.5 M646.7,705.2l29.7,-17.2 M589.0,744.5l38.4,-22.1 M643.8,712.8l25.9,-15.0 M561.4,767.9l20.6,-11.9 M590.5,751.1l24.0,-13.8 M638.2,723.6l21.3,-12.3 M606.2,746.9l24.8,-14.3 M653.3,719.8l22.9,-13.2 M560.5,779.9l16.7,-9.6 M583.1,766.9l33.5,-19.3 M627.5,741.2l26.4,-15.2 M571.6,779.5l24.0,-13.9 M613.2,755.5l31.4,-18.2 M571.3,786.3l31.1,-17.9 M614.5,761.3l21.2,-12.2 M641.2,746.0l26.4,-15.2 M576.6,788.6l22.8,-13.2 M611.9,768.3l34.0,-19.6 M567.8,801.2l36.9,-21.3 M621.2,770.4l25.0,-14.4 M571.0,805.5l34.3,-19.8 M620.3,777.1l15.6,-9.0 M585.6,803.1l31.8,-18.4 M633.7,775.3l30.1,-17.4 M581.2,810.7l33.3,-19.2 M623.2,786.4l33.3,-19.2 M592.8,809.5l38.3,-22.1 M651.9,775.4l32.5,-18.7 M585.3,818.7l23.4,-13.5 M622.8,797.0l37.4,-21.6 M584.0,824.8l24.5,-14.1 M617.4,805.5l21.7,-12.5 M600.3,821.1l34.8,-20.1 M650.2,792.3l23.6,-13.6 M602.9,826.9l16.4,-9.5 M629.5,811.6l28.6,-16.5 M607.2,830.4l20.1,-11.6 M633.4,815.3l22.2,-12.8" stroke="#1a1a18" stroke-width="1.4" fill="none" stroke-linecap="round" opacity="0.85"/>
<path d="M190,688.6 L129.8,704.2 L163.9,738.4 L150.3,786.3 L254.8,765.7 L195.2,751.1 Z" fill="none" stroke="#1a1a18" stroke-width="3.9" stroke-linejoin="miter"/>
<path d="M626.6,688.6 L679.3,699.3 L646.1,732.5 L666.6,786.3 L560.2,764.8 L623.6,752.1 Z" fill="none" stroke="#1a1a18" stroke-width="3.9" stroke-linejoin="miter"/>
<path d="M195.2,751.1 L254.8,744.3 L254.8,765.7 Z" fill="#3f9c44"/>
<path d="M623.6,752.1 L560.2,744.3 L560.2,764.8 Z" fill="#3f9c44"/>
<clipPath id="cp9"><path d="M195.2,751.1 L254.8,744.3 L254.8,765.7 Z"/></clipPath>
<path clip-path="url(#cp9)" d="M190.3,752.9l15.3,-28.7 M194.7,753.6l17.3,-32.5 M198.5,754.9l22.5,-42.2 M195.1,772.3l22.1,-41.5 M198.9,774.7l23.1,-43.4 M205.1,773.1l20.5,-38.6 M214.0,763.8l17.7,-33.3 M212.3,777.3l19.2,-36.1 M220.7,769.1l20.4,-38.4 M226.1,769.8l14.9,-27.9 M221.3,788.5l22.8,-42.8 M228.0,786.2l14.4,-27.0 M248.3,748.2l14.5,-27.2 M231.6,789.6l15.5,-29.1 M257.4,741.2l19.6,-36.8 M234.2,795.7l18.0,-33.9 M246.3,780.6l22.0,-41.3" stroke="#1a1a18" stroke-width="1.6" fill="none" stroke-linecap="round" opacity="0.85"/>
<clipPath id="cp10"><path d="M623.6,752.1 L560.2,744.3 L560.2,764.8 Z"/></clipPath>
<path clip-path="url(#cp10)" d="M551.5,759.6l18.7,-35.2 M552.4,768.3l22.3,-42.0 M580.5,715.4l16.3,-30.7 M563.4,757.0l18.9,-35.5 M558.5,774.2l17.2,-32.3 M579.9,734.0l18.0,-33.9 M570.4,761.0l20.6,-38.8 M572.5,765.4l16.0,-30.1 M571.5,777.6l17.3,-32.6 M600.7,722.7l23.3,-43.8 M579.8,769.5l21.1,-39.7 M582.1,774.4l22.7,-42.8 M585.5,777.7l21.2,-39.9 M610.9,729.8l18.1,-34.0 M588.1,782.1l17.8,-33.4 M612.9,735.5l23.2,-43.7 M592.6,783.7l18.3,-34.4 M617.9,736.2l16.3,-30.7 M596.1,788.0l18.5,-34.7 M618.0,746.8l22.5,-42.3 M603.4,782.6l21.6,-40.6 M607.7,782.6l22.2,-41.7 M613.4,781.4l20.8,-39.1" stroke="#1a1a18" stroke-width="1.6" fill="none" stroke-linecap="round" opacity="0.85"/>
<path d="M195.2,751.1 L254.8,744.3 L254.8,765.7 Z" fill="none" stroke="#1a1a18" stroke-width="3.9" stroke-linejoin="round"/>
<path d="M623.6,752.1 L560.2,744.3 L560.2,764.8 Z" fill="none" stroke="#1a1a18" stroke-width="3.9" stroke-linejoin="round"/>
<path d="M188.4,661.3 C270,631 540,628 627.5,658.3 L623.6,752.1 C540,724 280,724 195.2,751.1 Z" fill="url(#gGr)"/>
<path d="M188.4,661.3 C270,631 540,628 627.5,658.3 L623.6,752.1 C540,724 280,724 195.2,751.1 Z" fill="url(#hGr)"/>
<clipPath id="cp11"><path d="M188.4,661.3 C270,631 540,628 627.5,658.3 L623.6,752.1 C540,724 280,724 195.2,751.1 Z"/></clipPath>
<path clip-path="url(#cp11)" d="M219.8,604.9l19.3,-12.5 M221.8,633.8l15.9,-10.3 M221.7,650.9l12.8,-8.3 M202.4,672.6l20.2,-13.1 M207.8,701.6l17.4,-11.3 M214.9,706.3l20.0,-13.0 M205.5,732.7l13.1,-8.5 M198.6,759.5l16.1,-10.4 M209.7,770.6l14.5,-9.4 M212.0,786.4l16.5,-10.7" stroke="#1a1a18" stroke-width="1.1" fill="none" stroke-linecap="round" opacity="0.75"/>
<clipPath id="cp12"><path d="M188.4,661.3 C270,631 540,628 627.5,658.3 L623.6,752.1 C540,724 280,724 195.2,751.1 Z"/></clipPath>
<path clip-path="url(#cp12)" d="M584.5,584.4l23.8,-15.4 M586.9,607.6l13.1,-8.5 M595.2,608.8l11.6,-7.5 M598.8,615.4l21.2,-13.8 M602.8,619.2l21.5,-14.0 M620.9,614.2l24.7,-16.1 M599.8,637.2l11.7,-7.6 M624.9,620.9l25.1,-16.3 M620.5,630.6l14.3,-9.3 M626.6,636.1l19.2,-12.5 M595.3,662.8l12.6,-8.2 M615.8,649.5l17.2,-11.2 M618.1,654.9l14.5,-9.4 M587.9,683.4l11.9,-7.7 M612.2,667.6l21.2,-13.8 M594.8,692.9l18.7,-12.1 M626.4,672.3l22.1,-14.4 M601.6,695.0l11.6,-7.5 M587.6,711.6l16.2,-10.5 M623.1,688.5l14.4,-9.3 M583.5,723.0l23.3,-15.1 M627.1,694.8l15.9,-10.4 M594.4,722.7l20.9,-13.6 M603.6,726.1l14.3,-9.3 M594.6,739.0l15.3,-9.9 M587.8,751.2l19.4,-12.6 M612.2,743.4l22.2,-14.4 M584.4,770.8l14.4,-9.4 M604.5,757.7l22.2,-14.4 M590.5,773.1l12.0,-7.8 M621.3,753.1l18.1,-11.8 M600.4,775.4l23.5,-15.2 M592.5,789.1l16.9,-11.0" stroke="#1a1a18" stroke-width="1.2" fill="none" stroke-linecap="round" opacity="0.85"/>
<path d="M188.4,661.3 C270,631 540,628 627.5,658.3 L623.6,752.1 C540,724 280,724 195.2,751.1 Z" fill="none" stroke="#1a1a18" stroke-width="4.3" stroke-linejoin="miter"/>
<path d="M933.2,689.6 L878.6,704.2 L915.7,738.4 L899.1,787.2 L1001.6,765.7 L939.1,755 Z" fill="#4f9be0"/>
<path d="M1340.9,688.6 L1395.6,701.3 L1357.5,736.4 L1379,790.2 L1271.6,764.8 L1334.1,754 Z" fill="#4f9be0"/>
<clipPath id="cp13"><path d="M933.2,689.6 L878.6,704.2 L915.7,738.4 L899.1,787.2 L1001.6,765.7 L939.1,755 Z"/></clipPath>
<path clip-path="url(#cp13)" d="M923.3,657.4l23.4,-13.5 M909.2,674.3l23.5,-13.5 M952.7,649.2l16.7,-9.6 M932.9,667.1l21.5,-12.4 M962.5,650.0l26.6,-15.4 M913.2,685.7l30.3,-17.5 M953.5,662.5l15.4,-8.9 M910.5,693.5l20.9,-12.1 M938.5,677.3l17.6,-10.1 M967.2,660.7l30.8,-17.8 M919.3,694.8l23.2,-13.4 M952.1,675.9l17.5,-10.1 M978.4,660.7l28.5,-16.4 M930.0,695.1l17.8,-10.3 M968.1,673.1l31.2,-18.0 M938.7,696.8l13.0,-7.5 M965.5,681.3l15.2,-8.8 M918.6,716.5l14.5,-8.4 M957.6,694.0l24.4,-14.1 M905.4,731.6l28.6,-16.5 M950.0,705.9l31.8,-18.3 M987.4,684.3l21.0,-12.1 M947.0,714.4l14.9,-8.6 M920.5,736.2l31.3,-18.1 M957.9,714.6l23.3,-13.4 M994.7,693.4l20.3,-11.7 M921.9,743.8l17.4,-10.1 M948.5,728.4l26.7,-15.4 M988.0,705.6l14.6,-8.4 M902.9,762.6l29.1,-16.8 M939.1,741.7l16.8,-9.7 M988.3,721.3l17.8,-10.3 M931.7,760.7l31.2,-18.0 M977.4,734.3l15.6,-9.0 M944.0,760.5l18.4,-10.6 M901.9,791.8l21.3,-12.3 M947.3,765.6l29.2,-16.8 M987.6,742.3l14.3,-8.3 M935.7,779.3l12.2,-7.0 M964.5,762.7l12.7,-7.4 M983.0,752.0l21.9,-12.6 M951.2,779.7l23.4,-13.5 M996.1,753.7l15.6,-9.0 M939.5,793.5l14.1,-8.2 M971.3,775.2l29.6,-17.1 M905.1,821.3l25.6,-14.8 M950.1,795.3l26.2,-15.1 M996.3,768.6l19.4,-11.2 M907.4,826.9l19.9,-11.5 M952.7,800.8l23.1,-13.3 M989.3,779.7l23.5,-13.6 M933.9,818.3l13.0,-7.5 M964.0,800.9l14.5,-8.4 M993.1,784.1l25.1,-14.5 M953.7,814.7l16.8,-9.7 M996.2,790.2l14.6,-8.4" stroke="#1a1a18" stroke-width="1.3" fill="none" stroke-linecap="round" opacity="0.85"/>
<clipPath id="cp14"><path d="M1340.9,688.6 L1395.6,701.3 L1357.5,736.4 L1379,790.2 L1271.6,764.8 L1334.1,754 Z"/></clipPath>
<path clip-path="url(#cp14)" d="M1295.9,668.6l23.3,-13.5 M1328.9,649.6l15.7,-9.1 M1285.2,680.3l17.3,-10.0 M1312.3,664.7l30.5,-17.6 M1286.9,684.9l32.0,-18.5 M1331.2,659.3l30.8,-17.8 M1288.7,690.1l27.5,-15.9 M1333.9,664.0l39.8,-23.0 M1289.5,697.1l19.9,-11.5 M1323.5,677.5l26.1,-15.1 M1364.7,653.7l29.5,-17.0 M1315.0,689.1l25.6,-14.8 M1358.3,664.1l16.7,-9.6 M1290.1,710.7l18.8,-10.8 M1330.0,687.7l25.1,-14.5 M1366.1,666.9l32.7,-18.9 M1276.4,725.9l37.2,-21.5 M1320.6,700.4l22.5,-13.0 M1358.3,678.6l16.2,-9.4 M1301.0,717.2l33.0,-19.1 M1357.4,684.7l31.7,-18.3 M1283.8,733.5l36.6,-21.1 M1331.8,705.8l27.0,-15.6 M1367.0,685.5l30.8,-17.8 M1309.2,725.8l23.4,-13.5 M1318.0,726.8l37.9,-21.9 M1367.0,698.5l24.3,-14.0 M1302.8,741.1l39.8,-23.0 M1358.3,709.1l33.7,-19.4 M1295.9,751.3l24.2,-14.0 M1330.4,731.4l21.4,-12.3 M1328.4,737.8l21.1,-12.2 M1367.0,715.6l15.9,-9.2 M1272.8,776.6l29.4,-17.0 M1314.6,752.4l17.7,-10.2 M1353.6,730.0l26.1,-15.1 M1322.0,755.6l34.4,-19.9 M1363.7,731.5l29.8,-17.2 M1277.3,787.1l22.2,-12.8 M1318.0,763.6l22.8,-13.2 M1349.9,745.2l35.0,-20.2 M1281.7,791.3l29.9,-17.3 M1322.7,767.6l23.0,-13.3 M1367.9,741.5l39.0,-22.5 M1288.4,793.2l31.3,-18.1 M1340.5,763.2l24.9,-14.4 M1279.7,804.2l27.6,-15.9 M1318.2,781.9l33.6,-19.4 M1290.9,805.1l24.2,-14.0 M1333.2,780.7l23.9,-13.8 M1365.5,762.0l20.2,-11.6 M1288.7,812.4l35.0,-20.2 M1337.1,784.5l24.9,-14.4 M1304.3,809.5l24.9,-14.4 M1354.6,780.4l33.1,-19.1 M1300.9,817.5l18.2,-10.5 M1327.9,801.9l30.2,-17.4 M1302.9,821.7l35.2,-20.3 M1363.6,786.7l37.8,-21.8 M1307.2,825.1l27.3,-15.8 M1351.4,799.5l18.4,-10.6 M1344.4,809.7l15.8,-9.1 M1315.3,833.5l22.4,-12.9 M1352.4,812.0l18.8,-10.8 M1348.3,821.7l18.2,-10.5" stroke="#1a1a18" stroke-width="1.4" fill="none" stroke-linecap="round" opacity="0.85"/>
<path d="M933.2,689.6 L878.6,704.2 L915.7,738.4 L899.1,787.2 L1001.6,765.7 L939.1,755 Z" fill="none" stroke="#1a1a18" stroke-width="3.9" stroke-linejoin="miter"/>
<path d="M1340.9,688.6 L1395.6,701.3 L1357.5,736.4 L1379,790.2 L1271.6,764.8 L1334.1,754 Z" fill="none" stroke="#1a1a18" stroke-width="3.9" stroke-linejoin="miter"/>
<path d="M939.1,755 L1001.6,745.2 L1001.6,765.7 Z" fill="#3a86cc"/>
<path d="M1334.1,754 L1271.6,745.2 L1271.6,764.8 Z" fill="#3a86cc"/>
<clipPath id="cp15"><path d="M939.1,755 L1001.6,745.2 L1001.6,765.7 Z"/></clipPath>
<path clip-path="url(#cp15)" d="M930.1,761.1l23.2,-43.7 M933.6,764.4l18.4,-34.7 M957.5,719.7l16.9,-31.8 M938.0,766.9l19.3,-36.4 M946.6,758.5l22.8,-42.9 M948.0,766.3l14.4,-27.0 M954.8,763.0l21.5,-40.5 M958.0,765.5l14.1,-26.5 M975.9,731.9l18.8,-35.3 M960.9,769.8l16.2,-30.4 M957.5,785.4l17.0,-31.9 M980.4,742.4l16.8,-31.6 M965.2,781.3l20.3,-38.3 M989.1,736.3l17.6,-33.1 M972.7,774.6l15.8,-29.8 M992.3,737.7l14.8,-27.9 M971.4,786.8l18.9,-35.6 M977.7,782.5l14.1,-26.5 M997.0,746.3l19.3,-36.3 M981.3,784.0l21.4,-40.2 M984.2,787.6l17.4,-32.7 M984.1,798.8l21.1,-39.7" stroke="#1a1a18" stroke-width="1.6" fill="none" stroke-linecap="round" opacity="0.85"/>
<clipPath id="cp16"><path d="M1334.1,754 L1271.6,745.2 L1271.6,764.8 Z"/></clipPath>
<path clip-path="url(#cp16)" d="M1265.3,755.8l18.7,-35.3 M1262.5,768.4l22.6,-42.5 M1266.0,771.7l22.8,-42.9 M1274.8,763.9l19.8,-37.2 M1280.9,762.6l21.0,-39.5 M1282.0,769.4l14.5,-27.2 M1300.4,734.8l19.4,-36.5 M1287.6,769.9l21.0,-39.4 M1286.7,782.1l17.6,-33.2 M1313.9,731.0l17.8,-33.5 M1298.2,768.8l20.9,-39.2 M1295.2,784.6l20.9,-39.2 M1305.4,772.8l22.2,-41.7 M1309.0,776.8l16.8,-31.6 M1311.2,780.9l18.0,-33.8 M1311.2,791.0l18.1,-34.0 M1336.3,743.8l16.5,-31.0 M1314.4,792.5l18.6,-35.0 M1321.0,787.2l15.4,-28.9 M1340.7,750.1l18.8,-35.3" stroke="#1a1a18" stroke-width="1.6" fill="none" stroke-linecap="round" opacity="0.85"/>
<path d="M939.1,755 L1001.6,745.2 L1001.6,765.7 Z" fill="none" stroke="#1a1a18" stroke-width="3.9" stroke-linejoin="round"/>
<path d="M1334.1,754 L1271.6,745.2 L1271.6,764.8 Z" fill="none" stroke="#1a1a18" stroke-width="3.9" stroke-linejoin="round"/>
<path d="M932.3,661.3 C1020,633 1250,630 1343.9,663.2 L1334.1,754 C1250,726 1030,724 939.1,755 Z" fill="url(#gBl)"/>
<path d="M932.3,661.3 C1020,633 1250,630 1343.9,663.2 L1334.1,754 C1250,726 1030,724 939.1,755 Z" fill="url(#hBl)"/>
<clipPath id="cp17"><path d="M932.3,661.3 C1020,633 1250,630 1343.9,663.2 L1334.1,754 C1250,726 1030,724 939.1,755 Z"/></clipPath>
<path clip-path="url(#cp17)" d="M951.7,605.4l20.3,-13.2 M954.1,613.6l18.5,-12.0 M953.1,624.7l9.0,-5.8 M936.8,655.5l12.1,-7.9 M950.5,665.8l16.5,-10.7 M946.7,676.9l19.5,-12.7 M940.7,689.1l8.9,-5.8 M965.2,673.2l12.0,-7.8 M937.8,700.8l10.8,-7.0 M950.0,711.1l15.0,-9.7 M959.4,713.4l11.9,-7.7 M939.4,746.7l19.9,-12.9 M935.3,758.6l8.4,-5.5 M935.0,767.1l11.4,-7.4 M956.3,753.3l17.3,-11.2 M944.1,772.2l11.2,-7.3 M957.6,787.8l18.8,-12.2" stroke="#1a1a18" stroke-width="1.1" fill="none" stroke-linecap="round" opacity="0.75"/>
<clipPath id="cp18"><path d="M932.3,661.3 C1020,633 1250,630 1343.9,663.2 L1334.1,754 C1250,726 1030,724 939.1,755 Z"/></clipPath>
<path clip-path="url(#cp18)" d="M1300.0,591.6l18.3,-11.9 M1300.8,598.0l15.5,-10.1 M1309.6,599.7l24.2,-15.7 M1310.6,608.6l12.4,-8.0 M1307.1,620.2l11.0,-7.1 M1327.7,606.8l15.4,-10.0 M1309.9,627.1l20.4,-13.2 M1320.7,626.6l10.8,-7.0 M1326.9,631.3l15.8,-10.3 M1323.3,641.0l20.5,-13.3 M1325.8,646.3l14.3,-9.3 M1325.0,653.9l10.5,-6.8 M1304.0,676.2l22.3,-14.5 M1337.4,654.5l12.0,-7.8 M1328.7,667.0l10.1,-6.6 M1321.4,681.0l23.7,-15.4 M1335.1,679.7l16.3,-10.6 M1331.0,690.7l20.6,-13.4 M1314.3,707.9l22.2,-14.4 M1302.2,725.4l15.8,-10.3 M1313.2,727.5l24.4,-15.9 M1319.9,730.7l15.3,-10.0 M1333.6,730.4l24.5,-15.9 M1311.2,753.1l10.3,-6.7 M1342.5,732.8l10.1,-6.5 M1302.1,768.4l15.3,-9.9 M1324.1,754.0l14.8,-9.6 M1308.0,771.2l14.9,-9.7 M1329.2,757.4l12.9,-8.4 M1321.4,770.4l13.2,-8.6 M1339.6,758.5l15.1,-9.8 M1300.5,791.8l19.1,-12.4 M1337.0,768.0l19.9,-13.0 M1306.9,795.5l20.8,-13.5 M1336.4,776.3l11.1,-7.2 M1313.6,798.6l22.9,-14.9 M1341.1,787.4l10.9,-7.1 M1341.4,793.9l23.0,-14.9" stroke="#1a1a18" stroke-width="1.2" fill="none" stroke-linecap="round" opacity="0.85"/>
<path d="M932.3,661.3 C1020,633 1250,630 1343.9,663.2 L1334.1,754 C1250,726 1030,724 939.1,755 Z" fill="none" stroke="#1a1a18" stroke-width="4.3" stroke-linejoin="miter"/>
<ellipse cx="762" cy="536" rx="203" ry="83" fill="url(#gYe)"/>
<ellipse cx="762" cy="536" rx="203" ry="83" fill="url(#hYe)" mask="url(#mYe)"/>
<ellipse cx="762" cy="536" rx="195" ry="76" fill="none" stroke="#e58a12" stroke-width="2"/>
<ellipse cx="762" cy="536" rx="203" ry="83" fill="none" stroke="#1a1a18" stroke-width="5.5"/>
<ellipse cx="762" cy="536" rx="191" ry="72.5" fill="none" stroke="#1a1a18" stroke-width="1.3" opacity="0.85"/>
<path d="M598,508 C585,520 580,545 590,565 M934,508 C945,522 948,545 935,568 M960,545 C958,560 948,575 930,588" fill="none" stroke="#1a1a18" stroke-width="1.3" stroke-dasharray="14 6 8 5" opacity="0.85"/>
<path d="M592,492 C640,462 690,450 710,448 M772,443 C800,444 830,448 840,452 M556,560 C565,585 600,602 620,607 M662,614 C700,628 770,632 800,630 M818,626 C850,624 880,616 900,608 M918,598 C935,590 955,575 965,560" stroke="#1a1a18" stroke-width="1.6" fill="none" stroke-linecap="round"/>
<g transform="translate(759.9,0) scale(0.718,1)"><path id="tpA" d="M-315.5,252.5 Q0,244.5 315.5,252.5" fill="none"/><text font-family="Liberation Sans, sans-serif" font-size="53" font-weight="normal" fill="#1a1a18" stroke="#1a1a18" stroke-width="1.6" stroke-linejoin="round" text-anchor="middle" letter-spacing="1.4"><textPath href="#tpA" startOffset="50%">Valorisation du personnel</textPath></text></g>
<g transform="translate(410.0,0) scale(0.609,1)"><path id="tpB" d="M-326.8,717.5 Q0,692.5 326.8,711.5" fill="none"/><text font-family="Liberation Sans, sans-serif" font-size="55" font-weight="normal" fill="#1a1a18" stroke="#1a1a18" stroke-width="1.6" stroke-linejoin="round" text-anchor="middle" letter-spacing="1.4"><textPath href="#tpB" startOffset="50%">Bon produit / Bon service</textPath></text></g>
<g transform="translate(1136.0,0) scale(0.7,1)"><path id="tpC" d="M-217.1,715 Q0,709.0 217.1,715" fill="none"/><text font-family="Liberation Sans, sans-serif" font-size="65" font-weight="normal" fill="#1a1a18" stroke="#1a1a18" stroke-width="1.9" stroke-linejoin="round" text-anchor="middle" letter-spacing="1.8"><textPath href="#tpC" startOffset="50%">Bonne gestion</textPath></text></g>
<g transform="translate(760,0) scale(0.725,1)"><text x="0" y="562" font-family="Liberation Sans, sans-serif" font-size="96" fill="#1a1a18" stroke="#1a1a18" stroke-width="2.6" stroke-linejoin="round" text-anchor="middle" letter-spacing="2">Réussite</text></g>
<defs>
<pattern id="hBoxL" width="26" height="26" patternUnits="userSpaceOnUse" patternTransform="rotate(-48)"><rect width="26" height="9" fill="#fbbd80" opacity="0.75"/></pattern>
<clipPath id="clipBoxR"><path d="M530,355 L940,200 L950,655 L550,855 Z"/></clipPath>
<linearGradient id="gRedChk" x1="0" x2="1" y1="0" y2="0"><stop offset="0" stop-color="#f7b21c"/><stop offset="0.25" stop-color="#ea4a22"/><stop offset="0.6" stop-color="#e0301e"/><stop offset="1" stop-color="#f08a1e"/></linearGradient>
</defs>
<!-- BOX : zoom frame origin (260,730) -->
<g transform="translate(260,730) scale(0.18550)" stroke="#1a1a18" stroke-width="23" stroke-linejoin="round" stroke-linecap="round">
 <!-- ground hatch -->
 <path d="M0,640 L120,600 M0,700 L150,650 M10,770 L200,700 M100,800 L260,745 M165,830 L320,775 M250,880 L400,825 M340,915 L470,862 M420,950 L560,890 M550,940 L700,875 M610,960 L760,900 M0,95 L70,70 M10,150 L110,125 M0,200 L40,205 M120,100 L180,105 M245,75 L300,50" stroke-width="6" fill="none"/>
 <!-- left face -->
 <path d="M125,235 L530,355 L550,855 L140,690 Z" fill="#f7a050"/>
 <path d="M125,235 L530,355 L550,855 L140,690 Z" fill="url(#hBoxL)" stroke="none"/>
 <!-- right face -->
 <path d="M530,355 L940,200 L950,655 L550,855 Z" fill="#f07a2c"/>
 <g clip-path="url(#clipBoxR)" stroke-width="7" fill="none">
  <path d="M545,400 L700,300 M548,450 L800,290 M550,505 L900,265 M552,560 L925,300 M556,615 L925,355 M560,670 L925,410 M562,725 L925,465 M566,780 L930,520 M572,830 L930,575 M640,845 L935,630"/>
 </g>
 <!-- top face -->
 <path d="M125,235 L575,90 L940,200 L530,355 Z" fill="#fbc684"/>
 <!-- tape -->
 <path d="M285,283 L645,113 L705,131 L360,305 Z" fill="#ecd2a6" stroke-width="10"/>
 <path d="M395,148 L465,126 L765,262 L690,290 Z" fill="#ecd2a6" stroke-width="10"/>
 <path d="M125,235 L575,90 L940,200 L530,355 Z" fill="none"/>
 <!-- tab -->
 <path d="M283,290 L357,312 L357,436 L283,410 Z" fill="#ef7e34" stroke-width="16"/>
 <path d="M125,235 L530,355 L550,855 L140,690 Z" fill="none"/>
</g>
<!-- THUMB / PAPER / CHECK : origin (390,740) -->
<g transform="translate(390,740) scale(0.18550)" stroke="#1a1a18" stroke-width="22" stroke-linejoin="round" stroke-linecap="round">
 <path d="M670,35 L780,0 M720,60 L840,20 M770,90 L880,55 M930,180 L1060,150 M1010,200 L1140,175 M1100,215 L1186,200 M560,770 L580,760 M545,820 L610,790 M540,880 L620,845 M0,745 L40,730 M0,800 L50,780 M0,855 L55,835" stroke-width="6" fill="none"/>
 <!-- hand -->
 <path d="M465,300 Q510,270 540,215 Q565,160 572,100 Q580,50 625,52 Q672,60 675,125 Q675,180 660,218 Q690,228 790,232 Q850,240 852,285 Q850,315 832,330 Q858,350 848,385 Q842,410 825,420 Q840,445 828,470 Q815,490 795,492 Q800,520 775,535 Q750,545 700,542 L600,540 Q520,530 465,512 Z" fill="#fddcb4"/>
 <path d="M795,492 Q790,480 800,470 M825,420 Q815,410 800,410 M832,330 Q820,325 805,328" stroke-width="14" fill="none"/>
 <!-- cuff -->
 <path d="M345,285 L450,285 Q470,285 470,305 L470,525 Q470,548 450,548 L350,548 Q328,548 328,525 L320,310 Q320,285 345,285 Z" fill="#3f7fd0"/>
 <circle cx="415" cy="505" r="16" fill="#f6d9a0" stroke-width="12"/>
 <!-- paper -->
 <path d="M135,562 L405,568 Q420,600 440,590 Q455,620 470,612 L540,642 L530,912 L75,915 L70,690 L150,660 Z" fill="#f4f5f1" stroke-width="18"/>
 <path d="M30,605 L125,585 L150,660 L50,690 Z" fill="#f4f5f1" stroke-width="16"/>
 <path d="M70,625 L120,615 M72,625 L82,665" stroke-width="14" fill="none"/>
 <path d="M425,565 Q430,590 450,585 M455,575 L460,580" stroke-width="12" fill="none"/>
 <!-- red check -->
 <path d="M168,752 L195,728 L290,815 L470,628 L500,655 L292,872 Z" fill="url(#gRedChk)" stroke-width="10"/>
 <path d="M120,755 Q150,730 185,715" stroke="#2f5f1f" stroke-width="6" fill="none"/>
 <!-- green check -->
 <path d="M632,705 Q625,695 640,682 L690,642 Q705,632 720,645 L800,712 L1068,392 Q1080,378 1095,388 L1135,415 Q1148,425 1138,440 L835,850 Q822,865 805,855 Z" fill="#5db55a"/>
 <path d="M690,700 L720,760 M730,720 L760,790 M770,750 L800,820 M880,650 L935,600 M950,560 L975,520" stroke="#2f7f35" stroke-width="6" fill="none" opacity="0.7"/>
</g>
<defs>
<radialGradient id="gGear" cx="0.45" cy="0.4" r="0.6"><stop offset="0" stop-color="#c4c4c4"/><stop offset="1" stop-color="#939393"/></radialGradient>
<pattern id="hBoard" width="34" height="34" patternUnits="userSpaceOnUse" patternTransform="rotate(-50)"><rect width="34" height="10" fill="#e07a18" opacity="0.55"/></pattern>
<linearGradient id="gDisp" x1="0" x2="1" y1="0" y2="0"><stop offset="0" stop-color="#8d8d86"/><stop offset="0.55" stop-color="#a7a88f"/><stop offset="1" stop-color="#cfd83f"/></linearGradient>
<linearGradient id="gPaper" x1="0" x2="1" y1="0" y2="1"><stop offset="0" stop-color="#fdeee0"/><stop offset="0.5" stop-color="#fde9d3"/><stop offset="1" stop-color="#f6f6f2"/></linearGradient>
</defs>
<path d="M1071,883 L1116,862 M1078,892 L1118,874 M1090,898 L1118,887 M1108,902 L1122,897 M1134,905 l10,-3" stroke="#1a1a18" stroke-width="1.6" fill="none" stroke-linecap="round"/>
<path d="M1108.1,824.2 L1120.1,823.0L1122.1,806.9L1110.7,802.9 A42.0,42.0 0 0 0 1107.7,792.1 L1115.4,782.7L1105.4,770.0L1094.5,775.1 A42.0,42.0 0 0 0 1084.7,769.6 L1083.5,757.6L1067.4,755.6L1063.4,767.0 A42.0,42.0 0 0 0 1052.6,770.0 L1043.2,762.3L1030.5,772.3L1035.6,783.2 A42.0,42.0 0 0 0 1030.1,793.0 L1018.1,794.2L1016.1,810.3L1027.5,814.3 A42.0,42.0 0 0 0 1030.5,825.1 L1022.8,834.5L1032.8,847.2L1043.7,842.1 A42.0,42.0 0 0 0 1053.5,847.6 L1054.7,859.6L1070.8,861.6L1074.8,850.2 A42.0,42.0 0 0 0 1085.6,847.2 L1095.0,854.9L1107.7,844.9L1102.6,834.0 A42.0,42.0 0 0 0 1108.1,824.2 Z M1090.1,808.6A21.0,21.0 0 1 0 1048.1,808.6A21.0,21.0 0 1 0 1090.1,808.6Z" fill="url(#gGear)" fill-rule="evenodd" stroke="#1a1a18" stroke-width="5.0" stroke-linejoin="round"/>
<path d="M1071.7,774.9l2.5,-3.3 M1041.5,829.7l1.9,-2.6 M1106.1,805.5l2.3,-3.0 M1072.9,769.8l2.6,-3.5 M1086.1,836.8l3.0,-3.9 M1089.4,780.4l3.4,-4.5 M1033.5,813.8l3.0,-4.0 M1102.4,794.4l2.9,-3.8 M1060.3,782.2l3.4,-4.5 M1033.9,802.5l3.4,-4.5 M1060.6,845.7l2.5,-3.3 M1079.4,839.6l3.5,-4.6 M1089.8,828.3l2.0,-2.7 M1077.1,770.8l2.6,-3.4 M1047.4,830.7l2.7,-3.6 M1045.3,787.9l2.9,-3.8 M1036.4,827.7l3.0,-4.0 M1102.8,824.7l3.6,-4.8 M1055.2,834.5l3.3,-4.5 M1106.1,817.0l2.8,-3.8 M1062.4,837.8l3.3,-4.4 M1041.5,822.3l1.9,-2.6 M1092.7,839.5l2.0,-2.6 M1079.2,839.2l2.1,-2.8 M1059.2,773.6l3.4,-4.5 M1102.3,799.1l1.9,-2.5 M1062.9,839.3l3.4,-4.5 M1102.2,812.6l3.6,-4.8 M1058.7,782.2l2.9,-3.8 M1098.3,802.8l2.5,-3.4 M1046.6,827.3l1.9,-2.5 M1090.1,831.6l3.5,-4.7 M1094.5,827.9l2.6,-3.5 M1034.5,813.0l2.9,-3.8" stroke="#2a2a2a" stroke-width="1.1" fill="none" stroke-linecap="round" opacity="0.8"/>
<path d="M953.3,852.0 L945.6,858.6L951.6,867.2L960.5,862.3 A25.6,25.6 0 0 0 965.5,865.7 L964.2,875.7L974.5,878.1L977.7,868.5 A25.6,25.6 0 0 0 978.0,868.5 L981.7,877.9L991.9,875.0L990.1,865.0 A25.6,25.6 0 0 0 991.8,863.9 L1000.1,869.8L1007.0,861.8L1000.1,854.4 A25.6,25.6 0 0 0 1002.2,848.3 L1012.3,847.0L1011.9,836.4L1001.8,835.8 A25.6,25.6 0 0 0 1000.1,831.4 L1007.0,824.0L1000.1,816.0L991.8,821.9 A25.6,25.6 0 0 0 988.1,819.7 L989.0,809.6L978.7,807.6L975.8,817.3 A25.6,25.6 0 0 0 971.1,818.0 L965.5,809.6L956.2,814.6L960.0,823.9 A25.6,25.6 0 0 0 954.4,831.2 L944.4,829.9L942.0,840.2L951.6,843.4 A25.6,25.6 0 0 0 953.3,852.0 Z M991.8,842.9A14.6,14.6 0 1 0 962.6,842.9A14.6,14.6 0 1 0 991.8,842.9Z" fill="url(#gGear)" fill-rule="evenodd" stroke="#1a1a18" stroke-width="4.4" stroke-linejoin="round"/>
<path d="M961.4,858.3l3.2,-4.3 M997.8,850.7l3.5,-4.6 M998.3,839.0l3.5,-4.7 M963.9,860.9l2.0,-2.7 M956.6,838.8l2.8,-3.7 M958.8,852.1l2.2,-2.9 M973.1,820.9l3.2,-4.2 M989.1,824.2l2.0,-2.7 M961.8,856.9l1.8,-2.4 M991.7,858.0l2.2,-2.9 M999.4,845.4l2.3,-3.1 M998.2,848.1l3.0,-4.0 M983.5,821.3l3.0,-4.1 M999.1,847.6l2.3,-3.1 M963.8,826.9l2.1,-2.7 M996.6,834.5l2.9,-3.8 M999.1,842.4l2.4,-3.2 M969.0,822.2l2.7,-3.6 M968.6,823.2l3.1,-4.1 M998.3,835.0l1.8,-2.5 M977.2,865.2l1.8,-2.4 M982.2,863.6l2.8,-3.8 M997.8,841.7l2.1,-2.8 M997.3,848.7l3.2,-4.2" stroke="#2a2a2a" stroke-width="1.1" fill="none" stroke-linecap="round" opacity="0.8"/>
<path d="M1012.5,905.7 L1006.1,912.7L1012.6,920.3L1020.5,914.9 A21.3,21.3 0 0 0 1027.3,917.7 L1029.0,927.1L1039.0,926.4L1039.4,916.9 A21.3,21.3 0 0 0 1044.6,914.0 L1052.8,918.9L1058.8,910.9L1051.9,904.4 A21.3,21.3 0 0 0 1053.0,899.7 L1062.2,897.2L1060.6,887.3L1051.1,887.7 A21.3,21.3 0 0 0 1049.9,885.5 L1055.3,877.6L1047.7,871.1L1040.7,877.5 A21.3,21.3 0 0 0 1039.4,876.9 L1039.0,867.4L1029.0,866.7L1027.3,876.1 A21.3,21.3 0 0 0 1024.8,876.8 L1018.4,869.8L1010.3,875.7L1015.0,883.9 A21.3,21.3 0 0 0 1012.7,887.7 L1003.2,887.3L1001.6,897.2L1010.8,899.7 A21.3,21.3 0 0 0 1012.5,905.7 Z M1043.1,896.9A11.2,11.2 0 1 0 1020.7,896.9A11.2,11.2 0 1 0 1043.1,896.9Z" fill="url(#gGear)" fill-rule="evenodd" stroke="#1a1a18" stroke-width="4.2" stroke-linejoin="round"/>
<path d="M1014.9,892.9l2.0,-2.7 M1043.2,909.5l2.7,-3.6 M1045.6,907.0l2.8,-3.7 M1019.3,908.2l2.5,-3.3 M1026.8,913.7l3.1,-4.1 M1041.4,882.5l2.0,-2.7 M1013.7,897.6l2.9,-3.8 M1034.5,914.1l3.1,-4.2 M1045.8,886.6l3.0,-4.0 M1029.2,914.2l2.0,-2.6 M1030.1,879.8l2.3,-3.1 M1038.2,912.9l3.4,-4.5 M1044.2,908.6l2.5,-3.3 M1015.0,896.0l2.6,-3.4 M1046.1,906.4l2.9,-3.8 M1044.7,884.7l3.4,-4.5 M1036.8,880.7l2.0,-2.6 M1015.5,901.1l2.0,-2.6" stroke="#2a2a2a" stroke-width="1.1" fill="none" stroke-linecap="round" opacity="0.8"/>
<g transform="translate(1110,735) scale(0.18553)" stroke="#1a1a18" stroke-width="22" stroke-linejoin="round" stroke-linecap="round">
 <path d="M0,700 L45,680 M0,760 L50,735 M0,815 L40,800 M130,920 L200,895 M260,950 L340,915 M345,965 L470,915 M440,980 L500,955 M520,1000 L600,965 M610,1024 L760,975 M880,1020 L1000,985 M720,125 L860,80 M760,150 L870,110 M800,180 L860,165 M880,215 L1010,185 M955,235 L1060,210 M1040,250 L1078,242 M610,70 L680,45 M670,90 L780,55 M200,15 L240,0" stroke-width="6" fill="none"/>
 <path d="M90,95 L725,150 L700,890 L45,840 Z" fill="#f6a545"/>
 <path d="M90,95 L725,150 L700,890 L45,840 Z" fill="url(#hBoard)" stroke="none"/>
 <path d="M90,95 L725,150 L700,890 L45,840 Z" fill="none"/>
 <path d="M150,150 L660,190 L625,795 L115,750 Z" fill="url(#gPaper)" stroke-width="17"/>
 <circle cx="425" cy="88" r="30" fill="#fff" stroke-width="18"/>
 <rect x="285" y="92" width="270" height="100" rx="22" fill="#8f8f8f" transform="rotate(3 420 140)"/>
 <path d="M345,128 L505,140" stroke-width="9" fill="none" opacity="0.8"/>
 <path d="M200,300 L240,335 L318,243" stroke="#2f5f22" stroke-width="22" fill="none"/>
 <path d="M190,458 L232,494 L308,398" stroke="#2f5f22" stroke-width="22" fill="none"/>
 <path d="M185,608 L222,648 L293,558" stroke="#d9202f" stroke-width="20" fill="none"/>
 <path d="M345,310 L550,324 M335,456 L525,468 M325,613 L505,627" stroke-width="17" fill="none"/>
 <!-- calculator -->
 <g transform="matrix(1,0.111,-0.125,1,620,400)">
  <rect x="0" y="0" width="405" height="520" rx="48" fill="#8e8e8e" stroke-width="24"/>
  <path d="M25,60 Q20,25 50,22 L360,22" stroke="#bdbdbd" stroke-width="7" fill="none"/>
  <rect x="33" y="42" width="342" height="76" rx="14" fill="url(#gDisp)" stroke-width="17"/>
  <path d="M60,108 L85,55 M95,108 L120,55 M130,108 L155,55 M165,108 L190,55 M200,108 L225,55 M235,108 L260,55 M270,108 L295,55" stroke="#55554a" stroke-width="6" fill="none" opacity="0.75"/>
<rect x="39" y="155" width="62" height="46" rx="9" fill="#f1f1ef" stroke-width="13"/>
<rect x="123" y="155" width="62" height="46" rx="9" fill="#f1f1ef" stroke-width="13"/>
<rect x="207" y="155" width="62" height="46" rx="9" fill="#f1f1ef" stroke-width="13"/>
<rect x="291" y="155" width="62" height="46" rx="9" fill="#f1f1ef" stroke-width="13"/>
<rect x="39" y="222" width="62" height="46" rx="9" fill="#f1f1ef" stroke-width="13"/>
<rect x="123" y="222" width="62" height="46" rx="9" fill="#f1f1ef" stroke-width="13"/>
<rect x="207" y="222" width="62" height="46" rx="9" fill="#f1f1ef" stroke-width="13"/>
<rect x="291" y="222" width="62" height="46" rx="9" fill="#f1edb5" stroke-width="13"/>
<rect x="39" y="290" width="62" height="46" rx="9" fill="#f1f1ef" stroke-width="13"/>
<rect x="123" y="290" width="62" height="46" rx="9" fill="#f1f1ef" stroke-width="13"/>
<rect x="207" y="290" width="62" height="46" rx="9" fill="#f1f1ef" stroke-width="13"/>
<rect x="291" y="290" width="62" height="46" rx="9" fill="#f1edb5" stroke-width="13"/>
<rect x="39" y="357" width="62" height="46" rx="9" fill="#f1f1ef" stroke-width="13"/>
<rect x="123" y="357" width="62" height="46" rx="9" fill="#f1f1ef" stroke-width="13"/>
<rect x="207" y="357" width="62" height="46" rx="9" fill="#f1f1ef" stroke-width="13"/>
<rect x="39" y="425" width="62" height="46" rx="9" fill="#f1f1ef" stroke-width="13"/>
<rect x="123" y="425" width="62" height="46" rx="9" fill="#f1f1ef" stroke-width="13"/>
<rect x="207" y="425" width="62" height="46" rx="9" fill="#f1f1ef" stroke-width="13"/>
<rect x="289" y="355" width="66" height="120" rx="10" fill="#f0853a" stroke-width="13"/>
 </g>
</g>
</svg>
</body></html>
